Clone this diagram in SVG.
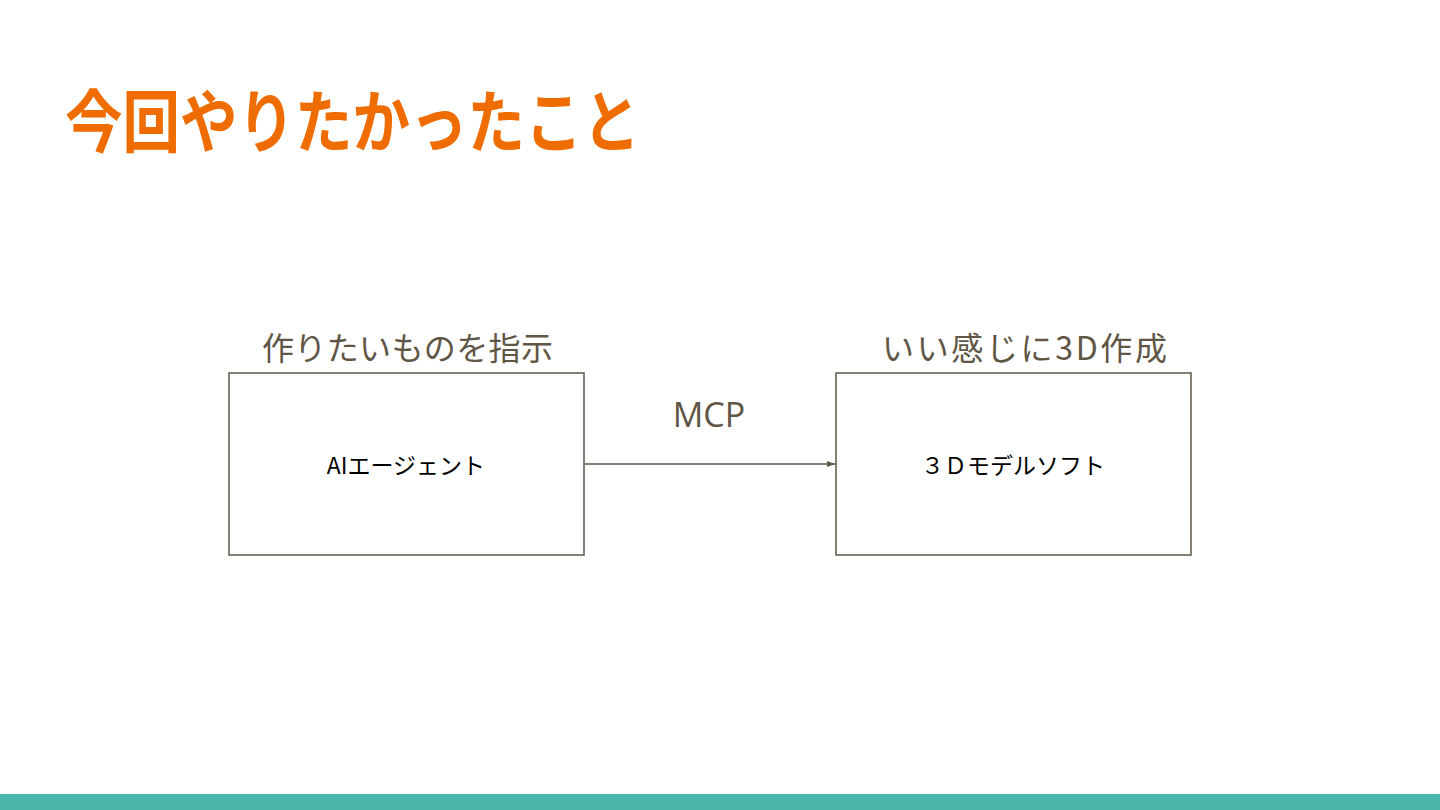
<svg xmlns="http://www.w3.org/2000/svg" width="1440" height="810" viewBox="0 0 1440 810">
<style>
.title{font-family:"Noto Sans CJK JP","Noto Sans",sans-serif;font-weight:bold;font-size:68px;fill:#ef6c00}
.lbl{font-family:"Noto Sans CJK JP","Noto Sans",sans-serif;font-size:32px;fill:#5f5646}
.mcp{font-family:"Open Sans","Noto Sans",sans-serif;font-size:34px;fill:#5f5646}
.box{fill:#ffffff;stroke:#5f5646;stroke-width:1.5}
.txt{font-family:"Noto Sans CJK JP","Noto Sans",sans-serif;font-size:23px;fill:#000000}
.edge{stroke:#5f5646;stroke-width:1.5;fill:none}
</style>
<defs>
<marker id="arr" markerWidth="8" markerHeight="6" refX="8" refY="3" orient="auto" markerUnits="userSpaceOnUse">
<path d="M0,0 L8,3 L0,6 Z" fill="#5f5646"/>
</marker>
</defs>
<rect x="0" y="0" width="1440" height="810" fill="#ffffff"/>
<rect x="0" y="794" width="1440" height="16" fill="#4db6ac"/>
<text class="title" x="65" y="147" textLength="575" lengthAdjust="spacingAndGlyphs">今回やりたかったこと</text>
<g id="connectors">
<line class="edge" x1="585" y1="464" x2="835" y2="464" marker-end="url(#arr)"/>
<text class="mcp" x="709" y="427" text-anchor="middle">MCP</text>
</g>
<g id="node-agent">
<text class="lbl" x="262" y="360" textLength="291">作りたいものを指示</text>
<rect class="box" x="229" y="373" width="355" height="182"/>
<text class="txt" x="406" y="474" text-anchor="middle">AIエージェント</text>
</g>
<g id="node-3d">
<text class="lbl" x="882" y="360" textLength="285">いい感じに3D作成</text>
<rect class="box" x="836" y="373" width="355" height="182"/>
<text class="txt" x="1013" y="474" text-anchor="middle">３Ｄモデルソフト</text>
</g>
</svg>
